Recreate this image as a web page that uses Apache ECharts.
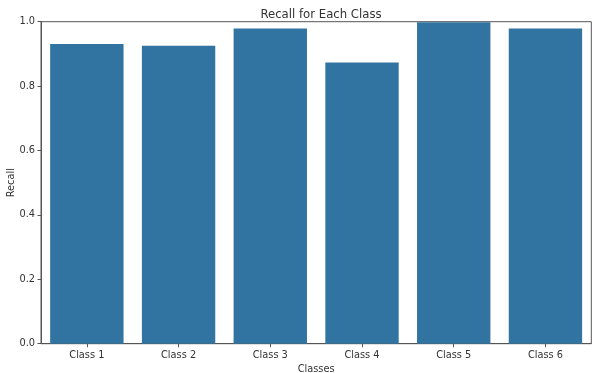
<!DOCTYPE html>
<html>
<head>
<meta charset="utf-8">
<script src="https://cdn.jsdelivr.net/npm/echarts@6/dist/echarts.min.js"></script>
<style>
html,body{margin:0;padding:0;background:#fff;}
#chart{width:597px;height:373px;}
</style>
</head>
<body>
<div id="chart"></div>
<script>
const categories = ['Class 1', 'Class 2', 'Class 3', 'Class 4', 'Class 5', 'Class 6'];
const recallValues = [0.931, 0.925, 0.979, 0.873, 0.998, 0.979];
const yTicks = [0.0, 0.2, 0.4, 0.6, 0.8, 1.0];

const font = 'DejaVu Sans';
const txt = '#333';
const chart = echarts.init(document.getElementById('chart'), null, {renderer: 'canvas'});
chart.setOption({
  animation: false,
  backgroundColor: '#fff',
  title: {
    text: 'Recall for Each Class',
    left: 316, textAlign: 'center', top: 4,
    textStyle: {fontFamily: font, fontSize: 11.7, fontWeight: 'normal', color: txt}
  },
  grid: {
    left: 41, right: 5.7, top: 21.7, bottom: 29.3,
    containLabel: false, outerBoundsMode: 'none',
    show: true, borderColor: '#555', borderWidth: 1, backgroundColor: 'transparent'
  },
  xAxis: {
    type: 'category',
    data: categories,
    name: 'Classes', nameLocation: 'middle', nameGap: 21, nameMoveOverlap: false,
    nameTextStyle: {fontFamily: font, fontSize: 9.8, color: txt},
    axisLine: {show: true, lineStyle: {color: '#555', width: 1}},
    axisTick: {show: true, alignWithLabel: true, length: 3.5, lineStyle: {color: '#555'}},
    axisLabel: {fontFamily: font, fontSize: 9.8, color: txt, margin: 7},
    splitLine: {show: false}
  },
  yAxis: {
    type: 'value',
    min: yTicks[0], max: yTicks[yTicks.length - 1], interval: 0.2,
    name: 'Recall', nameLocation: 'middle', nameGap: 25, nameRotate: 90, nameMoveOverlap: false,
    nameTextStyle: {fontFamily: font, fontSize: 9.8, color: txt},
    axisLine: {show: true, lineStyle: {color: '#555', width: 1}},
    axisTick: {show: true, length: 3.5, lineStyle: {color: '#555'}},
    axisLabel: {fontFamily: font, fontSize: 9.8, color: txt, margin: 6,
      formatter: v => v.toFixed(1)},
    splitLine: {show: false}
  },
  series: [{
    type: 'bar',
    data: recallValues,
    barCategoryGap: '20%',
    itemStyle: {color: '#3274a1'}
  }]
});
</script>
</body>
</html>
